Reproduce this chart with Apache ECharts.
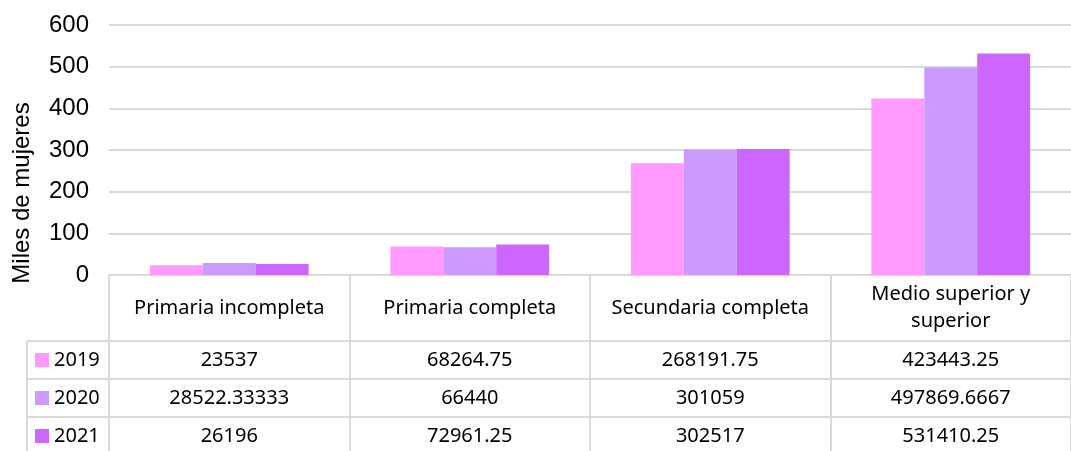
<!DOCTYPE html>
<html>
<head>
<meta charset="utf-8">
<script src="https://cdn.jsdelivr.net/npm/echarts@6/dist/echarts.min.js"></script>
<style>
	html, body { margin: 0; padding: 0; background: #fff; }
	#chart { width: 1071px; height: 451px; }
</style>
</head>
<body>
<div id="chart"></div>
<script>
	// categorias y valores (personas); el grafico los muestra en miles
	var categories = ['Primaria incompleta', 'Primaria completa', 'Secundaria completa', 'Medio superior y\nsuperior'];
	var years = ['2019', '2020', '2021'];
	var v2019 = [23537, 68264.75, 268191.75, 423443.25];
	var v2020 = [28522.33333, 66440, 301059, 497869.6667];
	var v2021 = [26196, 72961.25, 302517, 531410.25];
	var yTicks = [0, 100, 200, 300, 400, 500, 600];
	var colors = ['#FF99FF', '#CC99FF', '#CC66FF'];

	var rows = [v2019, v2020, v2021];
	var lineColor = '#d9d9d9';
	var tableFont = '"Noto Sans", sans-serif';

	var myChart = echarts.init(document.getElementById('chart'));

	function toMiles(arr) {
		return arr.map(function(v) { return v / 1000; });
	}

	var series = [];
	for (var i = 0; i < years.length; i++) {
		series.push({
			name : years[i],
			type : 'bar',
			data : toMiles(rows[i]),
			barGap : 0,
			barCategoryGap : '34%',
			itemStyle : { color : colors[i] }
		});
	}

	var option = {
		animation : false,
		color : colors,
		grid : { left : 109, top : 25, width : 978, height : 250 },
		legend : {
			orient : 'vertical',
			left : 35,
			top : 350,
			height : 200,
			padding : 0,
			itemWidth : 14,
			itemHeight : 14,
			itemGap : 18,
			icon : 'rect',
			data : years,
			textStyle : { fontFamily : tableFont, fontSize : 20, color : '#000', lineHeight : 20 }
		},
		xAxis : {
			type : 'category',
			data : categories,
			axisLine : { lineStyle : { color : lineColor, width : 2 } },
			axisTick : { show : true, length : 180, lineStyle : { color : lineColor, width : 2 } },
			axisLabel : {
				interval : 0,
				margin : 33,
				verticalAlign : 'middle',
				lineHeight : 27,
				fontFamily : tableFont,
				fontSize : 20,
				color : '#000'
			}
		},
		yAxis : {
			type : 'value',
			min : yTicks[0],
			max : yTicks[yTicks.length - 1],
			interval : yTicks[1] - yTicks[0],
			axisLine : { show : false },
			axisTick : { show : false },
			splitLine : { lineStyle : { color : lineColor, width : 2 } },
			axisLabel : { margin : 20, fontFamily : 'Arial, "Liberation Sans"', fontSize : 24, color : '#000' }
		},
		series : series
	};
	myChart.setOption(option);

	// tabla de datos debajo del eje
	var rowTop = 341, rowH = 38;
	var graphics = [];
	for (var r = 0; r < 3; r++) {
		graphics.push({
			type : 'line',
			shape : { x1 : 27, y1 : rowTop + r * rowH, x2 : 1071, y2 : rowTop + r * rowH },
			style : { stroke : lineColor, lineWidth : 2 }
		});
	}
	graphics.push({
		type : 'line',
		shape : { x1 : 27, y1 : rowTop, x2 : 27, y2 : 451 },
		style : { stroke : lineColor, lineWidth : 2 }
	});
	for (var r = 0; r < rows.length; r++) {
		for (var c = 0; c < categories.length; c++) {
			var px = myChart.convertToPixel({ xAxisIndex : 0 }, categories[c]);
			graphics.push({
				type : 'text',
				x : px,
				y : rowTop + r * rowH + rowH / 2,
				style : {
					text : String(rows[r][c]),
					fill : '#000',
					font : '20px ' + tableFont,
					textAlign : 'center',
					textVerticalAlign : 'middle'
				}
			});
		}
	}
	// titulo del eje Y
	graphics.push({
		type : 'text',
		x : 22,
		y : 193,
		rotation : Math.PI / 2,
		style : {
			text : 'Miles de mujeres',
			fill : '#000',
			font : '24px Arial, "Liberation Sans"',
			textAlign : 'center',
			textVerticalAlign : 'middle'
		}
	});
	myChart.setOption({ graphic : graphics });
</script>
</body>
</html>
